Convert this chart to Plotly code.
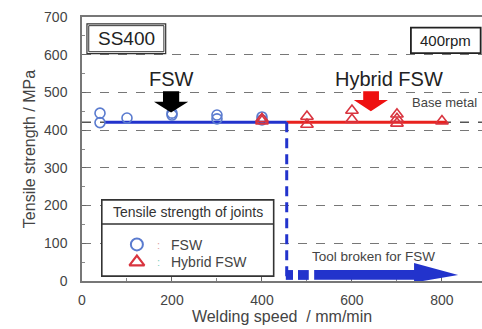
import plotly.graph_objects as go

# ---------------- data ----------------
fsw_speed = [40, 40, 100, 200, 200, 300, 300, 400, 400]
fsw_ts = [445, 420, 432, 440, 445, 440, 430, 435, 427]
hyb_speed = [400, 400, 500, 500, 600, 600, 700, 700, 700, 800]
hyb_ts = [430, 424, 436, 415, 452, 428, 442, 430, 418, 424]

base_metal = 421
fsw_line_x = [50, 455]
hyb_line_x = [455, 810]
joint_level = 421
break_speed = 455
x_ticks = [0, 200, 400, 600, 800]
y_ticks = [0, 100, 200, 300, 400, 500, 600, 700]

FONT = "Arial, Liberation Sans, sans-serif"
BLUE = "#2233cc"
RED = "#e8221e"
CIRC = "#5a7bcf"
TRI = "#d9343f"
GRID = "#777777"

fig = go.Figure()

# base metal dashed line
fig.add_trace(go.Scatter(x=[0, 900], y=[base_metal, base_metal], mode="lines",
                         line=dict(color="#555555", width=1.5, dash="dash"),
                         hoverinfo="skip", showlegend=False))
# joint level lines
fig.add_trace(go.Scatter(x=fsw_line_x, y=[joint_level, joint_level], mode="lines",
                         line=dict(color=BLUE, width=3), showlegend=False))
fig.add_trace(go.Scatter(x=hyb_line_x, y=[joint_level, joint_level], mode="lines",
                         line=dict(color=RED, width=3), showlegend=False))
# vertical dashed (tool break)
fig.add_trace(go.Scatter(x=[break_speed, break_speed], y=[joint_level, 0], mode="lines",
                         line=dict(color=BLUE, width=3, dash="10px,6px"), showlegend=False))

# markers
fig.add_trace(go.Scatter(x=fsw_speed, y=fsw_ts, mode="markers",
                         marker=dict(symbol="circle-open", size=10, color=CIRC,
                                     line=dict(width=1.6, color=CIRC)),
                         showlegend=False))
fig.add_trace(go.Scatter(x=hyb_speed, y=hyb_ts, mode="markers",
                         marker=dict(symbol="triangle-up-open", size=11, color=TRI,
                                     line=dict(width=1.6, color=TRI)),
                         showlegend=False))

shapes = []
# Tool broken arrow (blocks + body + head)
shapes.append(dict(type="rect", xref="x", yref="y", x0=453, x1=469, y0=3, y1=29,
                   fillcolor=BLUE, line=dict(width=0)))
shapes.append(dict(type="rect", xref="x", yref="y", x0=480, x1=504, y0=3, y1=29,
                   fillcolor=BLUE, line=dict(width=0)))
shapes.append(dict(type="path", xref="x", yref="y",
                   path="M 516 3 L 516 29 L 738 29 L 738 48 L 836 16 L 738 -4 L 738 3 Z",
                   fillcolor=BLUE, line=dict(width=0)))
# FSW black down arrow
shapes.append(dict(type="path", xref="x", yref="y",
                   path="M 180 503 L 216 503 L 216 475 L 236 475 L 198 447 L 160 475 L 180 475 Z",
                   fillcolor="black", line=dict(width=0)))
# Hybrid red down arrow
shapes.append(dict(type="path", xref="x", yref="y",
                   path="M 625 503 L 660 503 L 660 480 L 680 480 L 642 450 L 604 480 L 625 480 Z",
                   fillcolor="#ee1111", line=dict(width=0)))
# SS400 box (double)
shapes.append(dict(type="rect", xref="x", yref="y", x0=11, x1=186, y0=603, y1=682,
                   fillcolor="white", line=dict(color="#333333", width=1.2)))
shapes.append(dict(type="rect", xref="x", yref="y", x0=15, x1=182, y0=608, y1=677,
                   line=dict(color="#333333", width=1)))
# 400rpm box
shapes.append(dict(type="rect", xref="x", yref="y", x0=731, x1=886, y0=604, y1=672,
                   fillcolor="white", line=dict(color="#222222", width=1.8)))
# legend box (between grid and traces)
shapes.append(dict(type="rect", xref="x", yref="y", x0=44, x1=426, y0=13, y1=215,
                   fillcolor="white", layer="between", line=dict(color="#333333", width=1.6)))
shapes.append(dict(type="line", xref="x", yref="y", x0=44, x1=426, y0=151, y1=151,
                   layer="between", line=dict(color="#333333", width=1.4)))
fig.update_layout(shapes=shapes)

# legend symbols inside the box
fig.add_trace(go.Scatter(x=[122], y=[97], mode="markers",
                         marker=dict(symbol="circle-open", size=12, color=CIRC,
                                     line=dict(width=2, color=CIRC)), showlegend=False))
fig.add_trace(go.Scatter(x=[122], y=[50], mode="markers",
                         marker=dict(symbol="triangle-up-open", size=13, color=TRI,
                                     line=dict(width=2.2, color=TRI)), showlegend=False))

ann = []
def txt(x, y, s, size, color="#333333", xanchor="center", bold=False):
    ann.append(dict(x=x, y=y, xref="x", yref="y", text=("<b>%s</b>" % s) if bold else s,
                    showarrow=False, xanchor=xanchor, yanchor="middle",
                    font=dict(family=FONT, size=size, color=color)))

txt(98, 642, "SS400", 19, "#222222")
txt(808, 638, "400rpm", 15, "#222222")
txt(198, 536, "FSW", 20, "#222222")
txt(682, 536, "Hybrid FSW", 20, "#222222")
txt(882, 474, "Base metal", 13, "#444444", xanchor="right")
txt(235, 183, "Tensile strength of joints", 14, "#333333")
txt(170, 96, ":", 11, "#e0a0a0")
txt(170, 50, ":", 11, "#80d0c0")
txt(194, 96, "FSW", 14, "#444444", xanchor="left")
txt(194, 50, "Hybrid FSW", 14, "#444444", xanchor="left")
txt(648, 64, "Tool broken for FSW", 13.5, "#444444")
fig.update_layout(annotations=ann)

fig.update_xaxes(range=[0, 889], tickvals=x_ticks, ticks="inside", ticklen=4,
                 tickcolor="#666666", showline=True, linecolor="#777777", linewidth=1.5,
                 mirror=True, showgrid=False, zeroline=False,
                 minor=dict(tickvals=[100, 300, 500, 700], ticks="inside", ticklen=3,
                            tickcolor="#888888"),
                 tickfont=dict(family=FONT, size=14, color="#444444"),
                 ticklabelstandoff=5,
                 title=dict(text="Welding speed  / mm/min", standoff=2,
                            font=dict(family=FONT, size=16, color="#444444")))
fig.update_yaxes(range=[0, 700], tickvals=y_ticks, ticks="inside", ticklen=4,
                 tickcolor="#666666", showline=True, linecolor="#777777", linewidth=1.5,
                 showgrid=True, gridcolor=GRID, griddash="dash", gridwidth=1, zeroline=False,
                 minor=dict(tickvals=[50, 150, 250, 350, 450, 550, 650], ticks="inside",
                            ticklen=3, tickcolor="#888888"),
                 tickfont=dict(family=FONT, size=14, color="#444444"),
                 ticklabelstandoff=10,
                 title=dict(text="Tensile strength / MPa", standoff=4,
                            font=dict(family=FONT, size=16, color="#444444")))

fig.update_layout(width=482, height=329, margin=dict(l=82, r=0, t=17, b=48),
                  plot_bgcolor="white", paper_bgcolor="white", showlegend=False)

fig.write_html("out.html")
